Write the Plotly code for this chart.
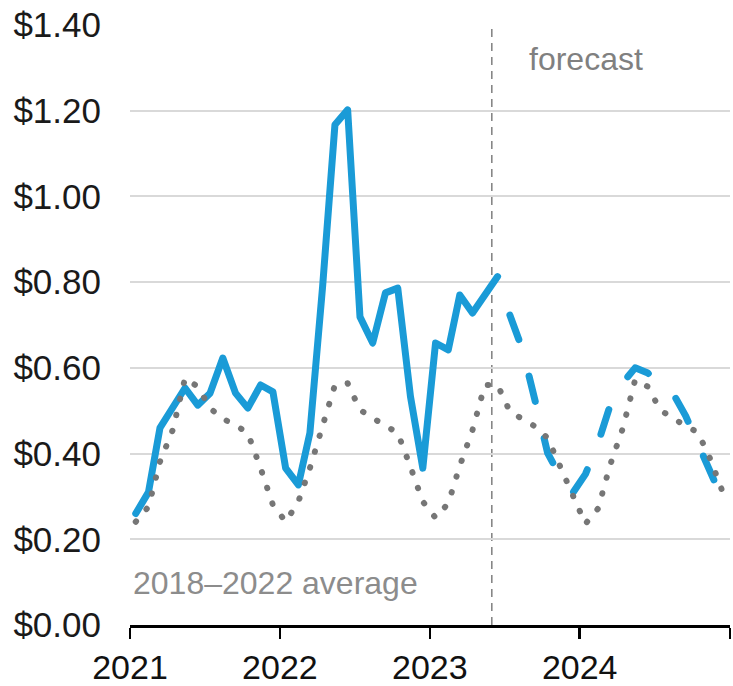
import plotly.graph_objects as go

# ---- data ----
years = [2021, 2022, 2023, 2024]
months = [f"{y}-{m:02d}-15" for y in years for m in range(1, 13)]

# historical monthly values (Jan 2021 - Jun 2023)
hist_values = [
    0.26, 0.31, 0.46, 0.51, 0.553, 0.513, 0.541, 0.623, 0.541, 0.506, 0.56, 0.544,
    0.366, 0.327, 0.448, 0.79, 1.167, 1.202, 0.719, 0.658, 0.775, 0.786, 0.533, 0.366,
    0.658, 0.642, 0.77, 0.728, 0.77, 0.813,
]
# forecast monthly values (Jul 2023 - Dec 2024)
fcst_values = [
    0.723, 0.642, 0.521, 0.401, 0.346, 0.308,
    0.352, 0.425, 0.512, 0.565, 0.600, 0.588, 0.556, 0.541, 0.488, 0.425, 0.352, 0.29,
]
# 2018-2022 average, monthly (Jan 2021 - Dec 2024)
avg_values = [
    0.241, 0.276, 0.381, 0.455, 0.576, 0.556, 0.506, 0.481, 0.467, 0.447, 0.366, 0.280,
    0.241, 0.288, 0.366, 0.459, 0.560, 0.564, 0.502, 0.483, 0.467, 0.448, 0.369, 0.288,
    0.250, 0.284, 0.371, 0.455, 0.560, 0.560, 0.498, 0.482, 0.463, 0.436, 0.369, 0.296,
    0.236, 0.272, 0.373, 0.459, 0.572, 0.556, 0.502, 0.482, 0.464, 0.449, 0.385, 0.308,
]
hist_months = months[:len(hist_values)]
fcst_months = months[len(hist_values):]

forecast_start = "2023-06-01"
x_tickvals = ["2021-01-01", "2022-01-01", "2023-01-01", "2024-01-01", "2025-01-01"]
x_ticktext = ["2021", "2022", "2023", "2024", ""]
y_tickvals = [0, 0.2, 0.4, 0.6, 0.8, 1.0, 1.2, 1.4]

BLUE = "#1a9bd7"
GRAY = "#767676"
FONT = "Liberation Sans, Arial, sans-serif"

fig = go.Figure()
fig.add_trace(go.Scatter(x=hist_months, y=hist_values, mode="lines",
                         line=dict(color=BLUE, width=7), hoverinfo="skip"))
fig.add_trace(go.Scatter(x=fcst_months, y=fcst_values, mode="lines",
                         line=dict(color=BLUE, width=7, dash="26px,38px"), hoverinfo="skip"))
fig.add_trace(go.Scatter(x=months, y=avg_values, mode="lines",
                         line=dict(color=GRAY, width=6, dash="0.5px,16px"), hoverinfo="skip"))

fig.add_shape(type="line", x0=forecast_start, x1=forecast_start, y0=0, y1=1.4,
              xref="x", yref="y", line=dict(color="#7f7f7f", width=1.5, dash="8px,6px"),
              layer="below")

fig.add_annotation(x="2023-08-25", y=1.32, xref="x", yref="y", text="forecast",
                   showarrow=False, xanchor="left", yanchor="middle",
                   font=dict(family=FONT, size=32, color="#808080"))
fig.add_annotation(x="2021-01-04", y=0.098, xref="x", yref="y", text="2018–2022 average",
                   showarrow=False, xanchor="left", yanchor="middle",
                   font=dict(family=FONT, size=32, color="#8c8c8c"))

fig.update_layout(
    width=733, height=686,
    margin=dict(l=130, r=3, t=25, b=61, pad=0),
    paper_bgcolor="white", plot_bgcolor="white",
    showlegend=False,
    font=dict(family=FONT, size=35, color="#1a1a1a"),
)
fig.update_xaxes(
    type="date", range=["2021-01-01", "2025-01-01"], automargin=False,
    tickmode="array", tickvals=x_tickvals, ticktext=x_ticktext,
    ticks="outside", ticklen=11, tickwidth=2.5, tickcolor="black",
    showline=True, linecolor="black", linewidth=2.5,
    showgrid=False, zeroline=False,
    tickfont=dict(family=FONT, size=34, color="#111111"),
)
fig.update_yaxes(
    range=[0, 1.4], tickmode="array", tickvals=y_tickvals, tickformat="$.2f",
    automargin=False,
    showgrid=True, gridcolor="#d9d9d9", gridwidth=2,
    zeroline=False, showline=False, ticks="",
    ticklabelstandoff=28,
    tickfont=dict(family=FONT, size=35, color="#1a1a1a"),
)

post_script = """
document.body.style.margin = '0';
document.body.style.overflow = 'hidden';
var gd = document.getElementById('{plot_id}');
gd.querySelectorAll('.scatterlayer .trace path.js-line').forEach(function(p){
  p.style.strokeLinecap = 'round';
  p.style.strokeLinejoin = 'round';
});
"""
fig.write_html("out.html", post_script=post_script,
               config={"displayModeBar": False, "staticPlot": True})
